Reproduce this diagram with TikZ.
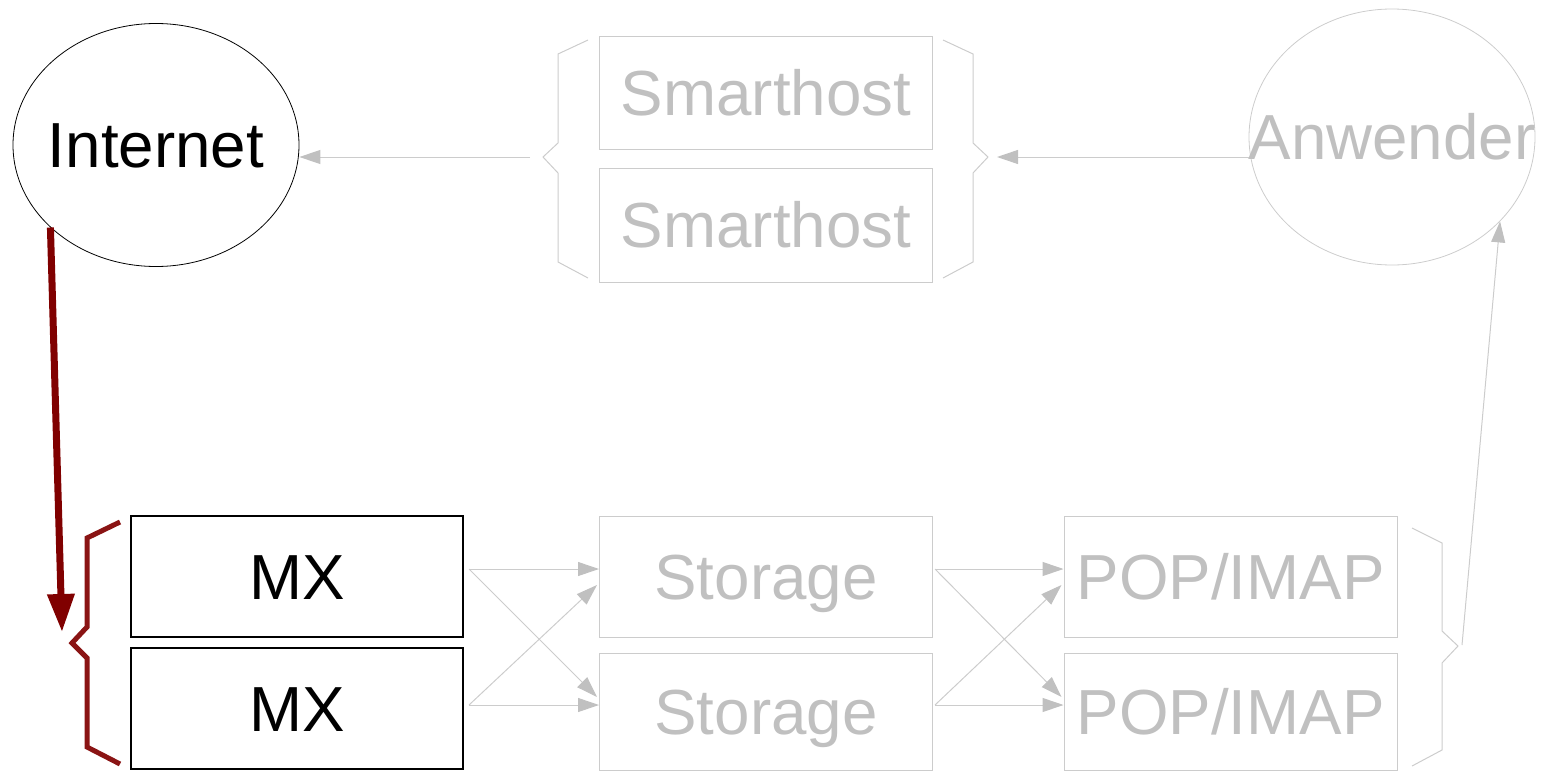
\documentclass[tikz,border=0pt]{standalone}
\usepackage{fontspec}
\setmainfont{Liberation Sans}
\usetikzlibrary{arrows.meta,shapes.geometric,calc}
\definecolor{boxgray}{RGB}{204,204,204}
\definecolor{txtgray}{RGB}{192,192,192}
\definecolor{headgray}{RGB}{192,192,192}
\definecolor{darkred}{RGB}{128,0,0}
\begin{document}
\begin{tikzpicture}[x=1pt,y=-1pt,
  lbl/.style={font=\fontsize{63.7}{64}\selectfont, text height=45.6pt, text depth=0pt, inner sep=0pt},
  bbox/.style={lbl, draw=black, line width=1.1pt, minimum width=332pt, minimum height=121pt},
  gbox/.style={lbl, draw=boxgray, line width=1pt, text=txtgray, minimum width=333pt},
  gline/.style={draw=boxgray, line width=1pt},
  garrow/.style={gline, -{Triangle[length=21pt,width=14pt,color=headgray]}},
  redbrace/.style={draw=darkred, line width=5pt, opacity=0.92},
  redarrow/.style={draw=darkred, line width=7pt, -{Triangle[length=38pt,width=26pt]}}
]
\useasboundingbox (0,0) rectangle (1541,771);

% ellipses
\node[ellipse, draw=black, line width=0.8pt, minimum width=286pt, minimum height=243pt, inner sep=0pt] (inet) at (156,145) {};
\node[lbl] (inettxt) at (inet.center) {Internet};
\node[ellipse, draw=boxgray, line width=0.8pt, minimum width=286pt, minimum height=256pt, inner sep=0pt] (anw) at (1392,137) {};
\node[lbl, text=txtgray] (anwtxt) at (anw.center) {Anwender};

% smarthosts
\node[gbox, minimum height=113pt] (sh1) at (766,92.5) {Smarthost};
\node[gbox, minimum height=114pt] (sh2) at (766,225) {Smarthost};
\draw[gline] (588,40) -- (558,54) -- (558,143) -- (543,157) -- (558,173) -- (558,262) -- (588,278);
\draw[gline] (943,40) -- (973,54) -- (973,143) -- (988,157) -- (973,173) -- (973,262) -- (943,278);
\coordinate (shL) at (530,157);
\coordinate (shR) at (997,157);
\draw[garrow] (shL) -- (inet.east |- shL);
\draw[garrow] (anw.west |- shR) -- (shR);

% MX
\node[bbox] (mx1) at (297,576.5) {MX};
\node[bbox] (mx2) at (297,708.5) {MX};
\draw[redbrace] (120,522) -- (87,538) -- (87,627) -- (72,643) -- (87,658) -- (87,747) -- (120,764);
\coordinate (redtip) at (62,632);
\draw[redarrow] (inet.218) -- (redtip);

% Storage
\node[gbox, minimum height=121pt] (st1) at (766,576.5) {Storage};
\node[gbox, minimum height=117pt] (st2) at (766,711.5) {Storage};

% POP/IMAP
\node[gbox, minimum height=121pt] (pop1) at (1230.5,576.5) {POP/IMAP};
\node[gbox, minimum height=117pt] (pop2) at (1230.5,711.5) {POP/IMAP};
\draw[gline] (1412,528) -- (1442,543) -- (1442,631) -- (1458,646) -- (1442,663) -- (1442,750) -- (1412,766);
\coordinate (popB) at (1462,645);
\draw[garrow] (popB) -- (anw.322);

% MX -> Storage
\coordinate (m1) at (469,569);
\coordinate (m2) at (469,705);
\draw[garrow] (m1) -- (st1.west |- m1);
\draw[garrow] (m1) -- ($(st2.west)+(-2,-14.5)$);
\draw[garrow] (m2) -- ($(st1.west)+(-2,8.5)$);
\draw[garrow] (m2) -- (st2.west |- m2);

% Storage -> POP
\coordinate (s1) at (935,569);
\coordinate (s2) at (935,705);
\draw[garrow] (s1) -- (pop1.west |- s1);
\draw[garrow] (s1) -- ($(pop2.west)+(-2,-14.5)$);
\draw[garrow] (s2) -- ($(pop1.west)+(-2,8.5)$);
\draw[garrow] (s2) -- (pop2.west |- s2);
\end{tikzpicture}
\end{document}
